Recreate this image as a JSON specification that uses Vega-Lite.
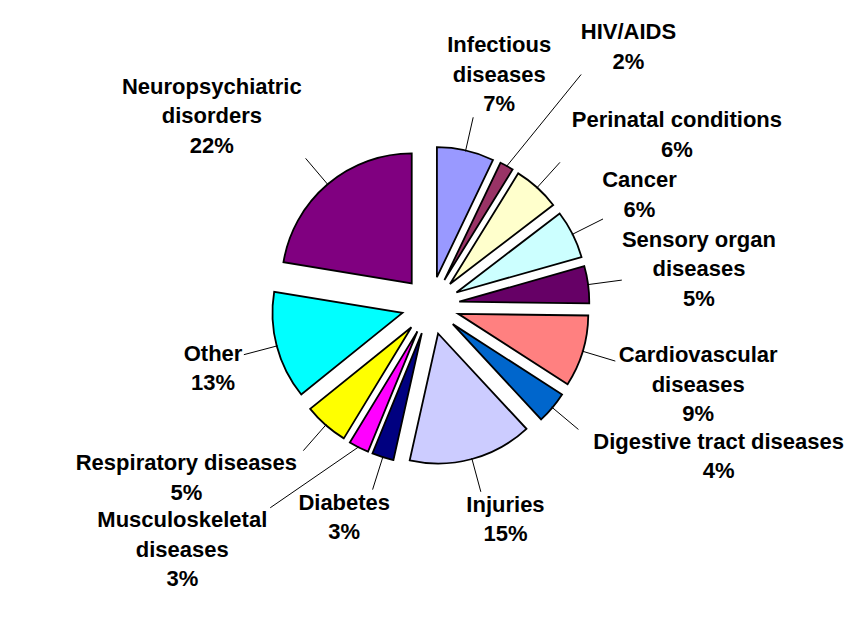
{
  "$schema": "https://vega.github.io/schema/vega-lite/v6.json",
  "width": 847,
  "height": 611,
  "autosize": "none",
  "padding": {"left": 7, "top": 0, "right": 0, "bottom": 8},
  "background": "white",
  "config": {"view": {"stroke": null}},
  "data": {
    "values": [
      {"order": 1, "cause": "Infectious diseases", "share": 7.1, "lines": ["Infectious", "diseases", "7%"]},
      {"order": 2, "cause": "HIV/AIDS", "share": 1.7, "lines": ["HIV/AIDS", "2%"]},
      {"order": 3, "cause": "Perinatal conditions", "share": 5.8, "lines": ["Perinatal conditions", "6%"]},
      {"order": 4, "cause": "Cancer", "share": 6.0, "lines": ["Cancer", "6%"]},
      {"order": 5, "cause": "Sensory organ diseases", "share": 4.6, "lines": ["Sensory organ", "diseases", "5%"]},
      {"order": 6, "cause": "Cardiovascular diseases", "share": 8.9, "lines": ["Cardiovascular", "diseases", "9%"]},
      {"order": 7, "cause": "Digestive tract diseases", "share": 4.0, "lines": ["Digestive tract diseases", "4%"]},
      {"order": 8, "cause": "Injuries", "share": 15.4, "lines": ["Injuries", "15%"]},
      {"order": 9, "cause": "Diabetes", "share": 2.7, "lines": ["Diabetes", "3%"]},
      {"order": 10, "cause": "Musculoskeletal diseases", "share": 2.5, "lines": ["Musculoskeletal", "diseases", "3%"]},
      {"order": 11, "cause": "Respiratory diseases", "share": 5.5, "lines": ["Respiratory diseases", "5%"]},
      {"order": 12, "cause": "Other", "share": 13.4, "lines": ["Other", "13%"]},
      {"order": 13, "cause": "Neuropsychiatric disorders", "share": 22.4, "lines": ["Neuropsychiatric", "disorders", "22%"]}
    ]
  },
  "transform": [
    {"stack": "share", "groupby": [], "sort": [{"field": "order", "order": "ascending"}], "as": ["s0", "s1"]}
  ],
  "layer": [
    {
      "mark": {
        "type": "arc",
        "outerRadius": 130,
        "stroke": "black",
        "strokeWidth": 1.8,
        "strokeJoin": "miter",
        "x": {"expr": "width/2 + 29*sin(PI*(datum.s0+datum.s1)/100)"},
        "y": {"expr": "height/2 - 29*cos(PI*(datum.s0+datum.s1)/100)"}
      },
      "encoding": {
        "theta": {"field": "s0", "type": "quantitative", "stack": null, "scale": {"domain": [0, 100]}},
        "theta2": {"field": "s1"},
        "color": {
          "field": "cause",
          "type": "nominal",
          "legend": null,
          "scale": {
            "domain": ["Infectious diseases", "HIV/AIDS", "Perinatal conditions", "Cancer", "Sensory organ diseases", "Cardiovascular diseases", "Digestive tract diseases", "Injuries", "Diabetes", "Musculoskeletal diseases", "Respiratory diseases", "Other", "Neuropsychiatric disorders"],
            "range": ["#9999FF", "#993366", "#FFFFCC", "#CCFFFF", "#660066", "#FF8080", "#0066CC", "#CCCCFF", "#000080", "#FF00FF", "#FFFF00", "#00FFFF", "#800080"]
          }
        }
      }
    },
    {
      "mark": {"type": "rule", "color": "black", "strokeWidth": 1},
      "encoding": {
        "x": {"value": {"expr": "width/2 + 158*sin(PI*(datum.s0+datum.s1)/100)"}},
        "y": {"value": {"expr": "height/2 - 158*cos(PI*(datum.s0+datum.s1)/100)"}},
        "x2": {"value": {"expr": "width/2 + (193 + (datum.share < 2.6 ? 74 + 10*cos(PI*(datum.s0+datum.s1)/100) : 0))*sin(PI*(datum.s0+datum.s1)/100 + (datum.share < 2.6 ? (8 - 4*cos(PI*(datum.s0+datum.s1)/100))*PI/180 : 0))"}},
        "y2": {"value": {"expr": "height/2 - (193 + (datum.share < 2.6 ? 74 + 10*cos(PI*(datum.s0+datum.s1)/100) : 0))*cos(PI*(datum.s0+datum.s1)/100 + (datum.share < 2.6 ? (8 - 4*cos(PI*(datum.s0+datum.s1)/100))*PI/180 : 0))"}}
      }
    },
    {
      "mark": {
        "type": "text",
        "font": "Liberation Sans",
        "fontWeight": "bold",
        "fontSize": 22,
        "lineHeight": 29.5,
        "align": "center",
        "baseline": "middle",
        "color": "black",
        "x": {"expr": "width/2 + (195 + (datum.share < 2.6 ? 74 + 10*cos(PI*(datum.s0+datum.s1)/100) : 0))*sin(PI*(datum.s0+datum.s1)/100 + (datum.share < 2.6 ? (8 - 4*cos(PI*(datum.s0+datum.s1)/100))*PI/180 : 0)) + 5.78*max(length(datum.lines[0]), length(datum.lines[1] || ''), length(datum.lines[2] || ''))*clamp(2*sin(PI*(datum.s0+datum.s1)/100 + (datum.share < 2.6 ? (8 - 4*cos(PI*(datum.s0+datum.s1)/100))*PI/180 : 0)), -1, 1)"},
        "y": {"expr": "height/2 - (195 + (datum.share < 2.6 ? 74 + 10*cos(PI*(datum.s0+datum.s1)/100) : 0))*cos(PI*(datum.s0+datum.s1)/100 + (datum.share < 2.6 ? (8 - 4*cos(PI*(datum.s0+datum.s1)/100))*PI/180 : 0)) - (14.75*(length(datum.lines)-1) + 11)*clamp(2*cos(PI*(datum.s0+datum.s1)/100 + (datum.share < 2.6 ? (8 - 4*cos(PI*(datum.s0+datum.s1)/100))*PI/180 : 0)), -1, 1) - 14.75*(length(datum.lines)-1)"}
      },
      "encoding": {
        "text": {"field": "lines"}
      }
    }
  ]
}
